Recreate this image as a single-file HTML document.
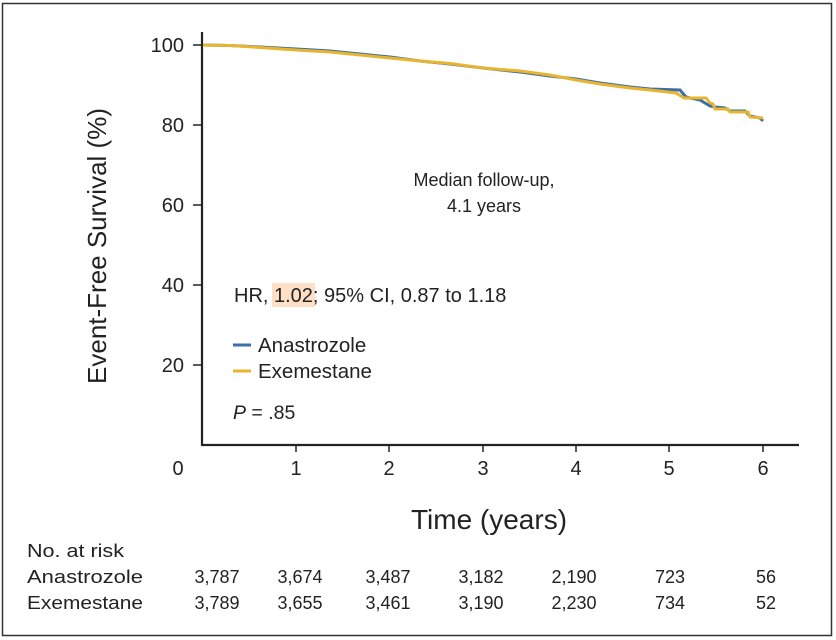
<!DOCTYPE html>
<html><head><meta charset="utf-8"><style>
html,body{margin:0;padding:0;background:#fff;}
svg{display:block;font-family:"Liberation Sans",Arial,sans-serif;}
</style></head><body>
<svg width="836" height="640" viewBox="0 0 836 640" xmlns="http://www.w3.org/2000/svg">
<rect x="2.5" y="3.5" width="829" height="632" fill="#fff" stroke="#333" stroke-width="1.5"/>
<line x1="202" y1="32" x2="202" y2="446" stroke="#222" stroke-width="2.2"/>
<line x1="201" y1="445" x2="799" y2="445" stroke="#222" stroke-width="2.2"/>
<g stroke="#222" stroke-width="1.5">
<line x1="193" y1="45" x2="202" y2="45"/><line x1="193" y1="125" x2="202" y2="125"/>
<line x1="193" y1="205" x2="202" y2="205"/><line x1="193" y1="285" x2="202" y2="285"/>
<line x1="193" y1="365" x2="202" y2="365"/>
<line x1="296" y1="445" x2="296" y2="452"/><line x1="389" y1="445" x2="389" y2="452"/>
<line x1="483" y1="445" x2="483" y2="452"/><line x1="576" y1="445" x2="576" y2="452"/>
<line x1="669" y1="445" x2="669" y2="452"/><line x1="763" y1="445" x2="763" y2="452"/>
</g>
<g font-size="20" fill="#222" text-anchor="end">
<text x="184" y="52">100</text><text x="184" y="132">80</text><text x="184" y="212">60</text>
<text x="184" y="292">40</text><text x="184" y="372">20</text>
</g>
<g font-size="20" fill="#222" text-anchor="middle">
<text x="178" y="475">0</text><text x="296" y="475">1</text><text x="389" y="475">2</text>
<text x="483" y="475">3</text><text x="576" y="475">4</text><text x="669" y="475">5</text><text x="763" y="475">6</text>
</g>
<text transform="translate(106,246) rotate(-90)" font-size="26" fill="#222" text-anchor="middle">Event-Free Survival (%)</text>
<text x="489" y="529" font-size="28" fill="#222" text-anchor="middle">Time (years)</text>
<polyline fill="none" stroke="#3a6fa8" stroke-width="3" points="203,45 230,45.5 260,47 296,49 330,51 360,54 390,57 420,61 450,64 483,68 520,72 550,76 576,79 600,83 630,87 650,89 680,90 686,97 690,98 700,100 710,106 715,107 725,108 730,111 745,111 750,116 760,118 763,121"/>
<polyline fill="none" stroke="#e8b52e" stroke-width="3" points="203,45 230,45.5 260,47.5 296,50 330,52 360,55 390,58 420,61 450,63.5 483,68 520,71 550,75 576,80 600,84 630,88 650,90 676,93 684,98 706,98 710,103 713,104 715,109 728,109 730,112 748,112 750,117 763,118"/>
<text x="484" y="186" font-size="18" fill="#222" text-anchor="middle">Median follow-up,</text>
<text x="484" y="212" font-size="18" fill="#222" text-anchor="middle">4.1 years</text>
<rect x="272" y="283" width="43" height="24" fill="#fde0c5"/>
<text x="234" y="302" font-size="20" fill="#222">HR, 1.02; 95% CI, 0.87 to 1.18</text>
<line x1="233" y1="345" x2="251" y2="345" stroke="#3a6fa8" stroke-width="3"/>
<line x1="233" y1="371" x2="251" y2="371" stroke="#e8b52e" stroke-width="3"/>
<text x="258" y="352" font-size="20.5" fill="#222">Anastrozole</text>
<text x="258" y="378" font-size="20.5" fill="#222">Exemestane</text>
<text x="233" y="419" font-size="19.5" fill="#222"><tspan font-style="italic">P</tspan> = .85</text>
<g font-size="18" fill="#222">
<text x="27" y="557" textLength="97" lengthAdjust="spacingAndGlyphs">No. at risk</text>
<text x="27" y="583" textLength="116" lengthAdjust="spacingAndGlyphs">Anastrozole</text>
<text x="27" y="609" textLength="116" lengthAdjust="spacingAndGlyphs">Exemestane</text>
</g>
<g font-size="18" fill="#222" text-anchor="middle">
<text x="217" y="583">3,787</text><text x="300" y="583">3,674</text><text x="388" y="583">3,487</text>
<text x="481" y="583">3,182</text><text x="574" y="583">2,190</text><text x="670" y="583">723</text><text x="766" y="583">56</text>
<text x="217" y="609">3,789</text><text x="300" y="609">3,655</text><text x="388" y="609">3,461</text>
<text x="481" y="609">3,190</text><text x="574" y="609">2,230</text><text x="670" y="609">734</text><text x="766" y="609">52</text>
</g>
</svg>
</body></html>
